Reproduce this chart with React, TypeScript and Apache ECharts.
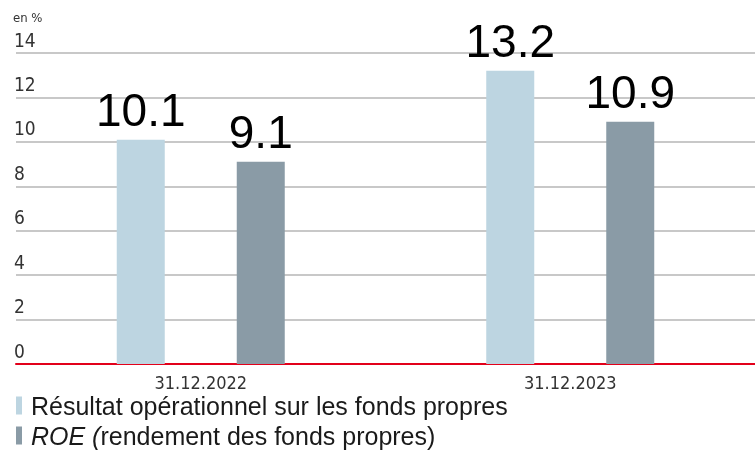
import React, { useEffect, useRef } from "react";
import * as echarts from "echarts";

const categories = ["31.12.2022", "31.12.2023"];
const seriesNames = ["Résultat opérationnel sur les fonds propres", "ROE (rendement des fonds propres)"];
const operatingReturn = [10.1, 13.2];
const roe = [9.1, 10.9];
const yTicks = { min: 0, max: 14, interval: 2 };

const NARROW = "'DejaVu Sans Condensed', 'Liberation Sans Narrow', sans-serif";
const SANS = "'Liberation Sans', Arial, sans-serif";

export default function App() {
  const ref = useRef<HTMLDivElement>(null);
  useEffect(() => {
    if (!ref.current) return;
    const chart = echarts.init(ref.current, undefined, { renderer: "svg" });
    const colors = ["#bdd5e1", "#8a9ba6"];
    const labelStyle = {
      show: true,
      position: "top" as const,
      distance: 7,
      fontFamily: SANS,
      fontSize: 46,
      color: "#000",
    };
    const legendText = {
      fontFamily: SANS,
      fontSize: 25,
      color: "#1a1a1a",
      padding: [0, 0, 0, 4],
      rich: {
        i: { fontFamily: SANS, fontSize: 25, fontStyle: "italic", color: "#1a1a1a" },
      },
    };
    const legendBase = {
      orient: "horizontal",
      left: 11,
      padding: 5,
      itemWidth: 6,
      itemHeight: 18,
      icon: "rect",
      textStyle: legendText,
      formatter: (name: string) =>
        name.startsWith("ROE") ? "{i|ROE (}" + name.slice(5) : name,
    };
    chart.setOption({
      animation: false,
      grid: { left: 16, right: 0, top: 53, bottom: 87, containLabel: false },
      graphic: [
        {
          type: "text",
          left: 13,
          top: 11,
          style: { text: "en %", fontFamily: NARROW, fontSize: 13, fill: "#333" },
        },
      ],
      legend: [
        { ...legendBase, top: 388, data: [seriesNames[0]] },
        { ...legendBase, top: 418, data: [seriesNames[1]] },
      ],
      xAxis: {
        type: "category",
        data: categories,
        axisLine: { show: true, lineStyle: { color: "#e2001a", width: 2 } },
        axisTick: { show: false },
        axisLabel: { fontFamily: NARROW, fontSize: 18, color: "#333", margin: 9 },
      },
      yAxis: {
        type: "value",
        min: yTicks.min,
        max: yTicks.max,
        interval: yTicks.interval,
        axisLine: { show: false },
        axisTick: { show: false },
        splitLine: { lineStyle: { color: "#c8c8c8", width: 2 } },
        axisLabel: {
          inside: true,
          margin: -2,
          align: "left",
          verticalAlign: "bottom",
          padding: [0, 0, 4, 0],
          fontFamily: NARROW,
          fontSize: 19,
          color: "#333",
        },
      },
      series: [
        {
          name: seriesNames[0],
          type: "bar",
          data: operatingReturn,
          barWidth: 48,
          barGap: "150%",
          itemStyle: { color: colors[0] },
          label: labelStyle,
        },
        {
          name: seriesNames[1],
          type: "bar",
          data: roe,
          barWidth: 48,
          itemStyle: { color: colors[1] },
          label: labelStyle,
        },
      ],
    });
    return () => chart.dispose();
  }, []);
  return (
    <div
      ref={ref}
      style={{ position: "fixed", left: 0, top: 0, width: 755, height: 451, overflow: "hidden" }}
    />
  );
}
